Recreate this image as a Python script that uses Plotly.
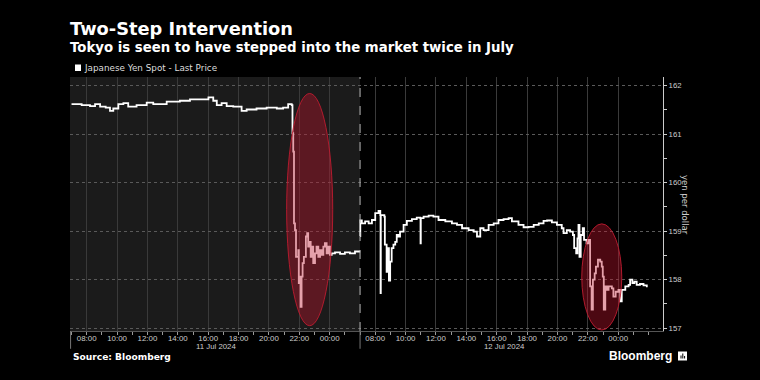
import pandas as pd
import plotly.graph_objects as go

# ---------------- data (Tokyo time) ----------------
day1_times = [
    "2024-07-11 07:00", "2024-07-11 07:40", "2024-07-11 08:13", "2024-07-11 08:33", "2024-07-11 08:53",
    "2024-07-11 09:15", "2024-07-11 09:32", "2024-07-11 09:45", "2024-07-11 10:05", "2024-07-11 10:25",
    "2024-07-11 10:44", "2024-07-11 11:17", "2024-07-11 11:57", "2024-07-11 12:23", "2024-07-11 13:16",
    "2024-07-11 14:08", "2024-07-11 14:48", "2024-07-11 15:28", "2024-07-11 16:01", "2024-07-11 16:20",
    "2024-07-11 16:34", "2024-07-11 16:53", "2024-07-11 17:13", "2024-07-11 17:39", "2024-07-11 18:12",
    "2024-07-11 18:32", "2024-07-11 19:11", "2024-07-11 19:51", "2024-07-11 20:31", "2024-07-11 20:56",
    "2024-07-11 21:16", "2024-07-11 21:30", "2024-07-11 21:33", "2024-07-11 21:36", "2024-07-11 21:39",
    "2024-07-11 21:43", "2024-07-11 21:47", "2024-07-11 21:56", "2024-07-11 21:58", "2024-07-11 22:00",
    "2024-07-11 22:05", "2024-07-11 22:09", "2024-07-11 22:13", "2024-07-11 22:18", "2024-07-11 22:26",
    "2024-07-11 22:31", "2024-07-11 22:35", "2024-07-11 22:39", "2024-07-11 22:45", "2024-07-11 22:50",
    "2024-07-11 22:55", "2024-07-11 23:02", "2024-07-11 23:08", "2024-07-11 23:15", "2024-07-11 23:22",
    "2024-07-11 23:28", "2024-07-11 23:35", "2024-07-11 23:41", "2024-07-11 23:48", "2024-07-11 23:55",
    "2024-07-12 00:01", "2024-07-12 00:08", "2024-07-12 00:21", "2024-07-12 00:41", "2024-07-12 01:00",
    "2024-07-12 01:20", "2024-07-12 01:40", "2024-07-12 01:57",
]
day1_prices = [
    161.62, 161.60, 161.58, 161.62, 161.57,
    161.55, 161.48, 161.53, 161.62, 161.64,
    161.57, 161.60, 161.65, 161.62, 161.67,
    161.69, 161.72, 161.72, 161.76, 161.69,
    161.60, 161.64, 161.58, 161.57, 161.48,
    161.51, 161.53, 161.55, 161.53, 161.55,
    161.62, 161.60, 161.02, 160.64, 159.16,
    159.02, 158.47, 158.61, 157.93, 158.06,
    157.44, 158.06, 158.34, 158.47, 158.89,
    158.96, 158.68, 158.78, 158.47, 158.68,
    158.34, 158.54, 158.68, 158.47, 158.61,
    158.51, 158.68, 158.75, 158.54, 158.68,
    158.51, 158.54, 158.56, 158.53, 158.56,
    158.54, 158.58, 158.60,
]

day2_times = [
    "2024-07-12 07:00", "2024-07-12 07:01", "2024-07-12 07:07", "2024-07-12 07:20", "2024-07-12 07:34",
    "2024-07-12 07:47", "2024-07-12 08:00", "2024-07-12 08:13", "2024-07-12 08:20", "2024-07-12 08:21",
    "2024-07-12 08:22", "2024-07-12 08:36", "2024-07-12 08:38", "2024-07-12 08:45", "2024-07-12 08:50",
    "2024-07-12 08:54", "2024-07-12 08:59", "2024-07-12 09:05", "2024-07-12 09:12", "2024-07-12 09:19",
    "2024-07-12 09:25", "2024-07-12 09:32", "2024-07-12 09:38", "2024-07-12 09:52", "2024-07-12 10:05",
    "2024-07-12 10:25", "2024-07-12 10:44", "2024-07-12 10:58", "2024-07-12 10:59", "2024-07-12 11:00",
    "2024-07-12 11:11", "2024-07-12 11:31", "2024-07-12 11:50", "2024-07-12 12:10", "2024-07-12 12:37",
    "2024-07-12 13:03", "2024-07-12 13:23", "2024-07-12 13:43", "2024-07-12 14:09", "2024-07-12 14:29",
    "2024-07-12 14:42", "2024-07-12 14:55", "2024-07-12 15:08", "2024-07-12 15:28", "2024-07-12 15:48",
    "2024-07-12 16:07", "2024-07-12 16:27", "2024-07-12 16:47", "2024-07-12 17:00", "2024-07-12 17:26",
    "2024-07-12 17:46", "2024-07-12 18:06", "2024-07-12 18:26", "2024-07-12 18:46", "2024-07-12 19:05",
    "2024-07-12 19:19", "2024-07-12 19:38", "2024-07-12 19:58", "2024-07-12 20:17", "2024-07-12 20:24",
    "2024-07-12 20:37", "2024-07-12 20:50", "2024-07-12 21:01", "2024-07-12 21:06", "2024-07-12 21:14",
    "2024-07-12 21:19", "2024-07-12 21:23", "2024-07-12 21:27", "2024-07-12 21:32", "2024-07-12 21:40",
    "2024-07-12 21:45", "2024-07-12 21:55", "2024-07-12 22:02", "2024-07-12 22:09", "2024-07-12 22:15",
    "2024-07-12 22:20", "2024-07-12 22:27", "2024-07-12 22:32", "2024-07-12 22:40", "2024-07-12 22:49",
    "2024-07-12 22:55", "2024-07-12 22:59", "2024-07-12 23:03", "2024-07-12 23:09", "2024-07-12 23:15",
    "2024-07-12 23:22", "2024-07-12 23:35", "2024-07-12 23:41", "2024-07-12 23:50", "2024-07-13 00:01",
    "2024-07-13 00:08", "2024-07-13 00:14", "2024-07-13 00:28", "2024-07-13 00:41", "2024-07-13 00:47",
    "2024-07-13 00:56", "2024-07-13 01:04", "2024-07-13 01:13", "2024-07-13 01:26", "2024-07-13 01:40",
    "2024-07-13 01:53",
]
day2_prices = [
    158.90, 159.22, 159.16, 159.20, 159.16,
    159.23, 159.37, 159.42, 159.33, 157.72,
    159.33, 159.30, 158.72, 158.16, 158.65,
    157.98, 158.37, 158.65, 158.72, 158.78,
    158.92, 158.89, 158.99, 159.13, 159.21,
    159.25, 159.28, 159.27, 158.75, 159.27,
    159.30, 159.32, 159.30, 159.23, 159.20,
    159.16, 159.13, 159.06, 159.02, 158.99,
    158.89, 159.06, 159.02, 159.13, 159.16,
    159.23, 159.25, 159.27, 159.20, 159.13,
    159.08, 159.09, 159.13, 159.16, 159.21,
    159.22, 159.18, 159.13, 159.06, 158.96,
    159.02, 158.99, 158.92, 158.65, 158.54,
    158.85, 159.13, 158.47, 158.92, 159.06,
    158.82, 158.75, 158.82, 157.86, 157.38,
    158.00, 158.13, 158.27, 158.41, 158.37,
    158.27, 158.06, 157.38, 157.86, 157.79,
    157.86, 157.82, 157.65, 157.75, 157.79,
    157.55, 157.79, 157.86, 157.89, 158.00,
    157.93, 157.96, 157.89, 157.91, 157.88,
    157.84,
]

session_starts = ["2024-07-11 07:00", "2024-07-12 07:00"]
session_dates = ["11 Jul 2024", "12 Jul 2024"]
session_hours = 19           # each plotted trading window: 07:00 -> 02:00
tick_hours = [8, 10, 12, 14, 16, 18, 20, 22, 24]
tick_labels = ["08:00", "10:00", "12:00", "14:00", "16:00", "18:00", "20:00", "22:00", "00:00"]

# intervention windows (highlighted with ellipses)
highlight_times = [("2024-07-11 21:10", "2024-07-12 00:12"), ("2024-07-12 21:36", "2024-07-13 00:14")]
highlight_sessions = [0, 1]
highlight_prices = [(157.05, 161.84), (156.96, 159.15)]

series_name = "Japanese Yen Spot - Last Price"


def session_pos(times, idx):
    t = pd.to_datetime(pd.Series(times))
    return (idx * session_hours + (t - pd.Timestamp(session_starts[idx])).dt.total_seconds() / 3600).tolist()


# ---------------- layout helpers ----------------
W, H = 760, 380
PL, PR, PT, PB = 70, 663, 77, 331


def pxx(x):
    return (x - PL) / (PR - PL)


def pyy(y):
    return (PB - y) / (PB - PT)


fig = go.Figure()
for idx, (tms, prs) in enumerate([(day1_times, day1_prices), (day2_times, day2_prices)]):
    fig.add_trace(go.Scatter(
        x=session_pos(tms, idx), y=prs, mode="lines", name=series_name,
        line=dict(color="#ffffff", width=1.8, shape="hv"),
        showlegend=False, hoverinfo="skip",
    ))

tickvals, ticktext = [], []
for i in range(len(session_starts)):
    for hr, lab in zip(tick_hours, tick_labels):
        tickvals.append(i * session_hours + hr - 7)
        ticktext.append(lab)

x_min, x_max = -0.1, 38.95

shapes = [
    # darker-grey panel for first session
    dict(type="rect", xref="x", yref="paper", x0=x_min, x1=session_hours, y0=0, y1=1,
         fillcolor="#1b1b1b", line=dict(width=0), layer="below"),
    # session separator
    dict(type="line", xref="x", yref="paper", x0=session_hours, x1=session_hours, y0=0, y1=1,
         line=dict(color="#bbbbbb", width=1, dash="dash"), layer="above"),
    dict(type="line", xref="x", yref="paper", x0=session_hours, x1=session_hours, y0=-0.07, y1=0,
         line=dict(color="#777777", width=1)),
    dict(type="line", xref="paper", yref="paper", x0=0.001, x1=0.001, y0=-0.07, y1=0,
         line=dict(color="#777777", width=1)),
    # legend swatch
    dict(type="rect", xref="paper", yref="paper", x0=pxx(75), x1=pxx(81), y0=pyy(71), y1=pyy(64.5),
         fillcolor="#ffffff", line=dict(width=0)),
    # bloomberg icon
    dict(type="rect", xref="paper", yref="paper", x0=pxx(678), x1=pxx(687), y0=pyy(360.5), y1=pyy(351.5),
         fillcolor="#ffffff", line=dict(width=0)),
    dict(type="line", xref="paper", yref="paper", x0=pxx(681), x1=pxx(681), y0=pyy(358.5), y1=pyy(355.5),
         line=dict(color="#000000", width=1)),
    dict(type="line", xref="paper", yref="paper", x0=pxx(682.8), x1=pxx(682.8), y0=pyy(358.5), y1=pyy(353.5),
         line=dict(color="#000000", width=1)),
    dict(type="line", xref="paper", yref="paper", x0=pxx(684.6), x1=pxx(684.6), y0=pyy(358.5), y1=pyy(356),
         line=dict(color="#000000", width=1)),
]
for (t0, t1), idx, (p0, p1) in zip(highlight_times, highlight_sessions, highlight_prices):
    xs = session_pos([t0, t1], idx)
    shapes.append(dict(type="circle", xref="x", yref="y", x0=xs[0], x1=xs[1], y0=p0, y1=p1,
                       fillcolor="rgba(190,20,45,0.40)", line=dict(color="rgba(190,28,48,0.9)", width=1),
                       layer="above"))

annotations = [
    dict(text="<b>Two-Step Intervention</b>", x=pxx(68), y=pyy(28.5), xref="paper", yref="paper",
         xanchor="left", yanchor="middle", showarrow=False,
         font=dict(family="DejaVu Sans", size=17.8, color="#ffffff")),
    dict(text="<b>Tokyo is seen to have stepped into the market twice in July</b>", x=pxx(68), y=pyy(47),
         xref="paper", yref="paper", xanchor="left", yanchor="middle", showarrow=False,
         font=dict(family="DejaVu Sans", size=13.3, color="#ffffff")),
    dict(text=series_name, x=pxx(81.5), y=pyy(68), xref="paper", yref="paper",
         xanchor="left", yanchor="middle", showarrow=False,
         font=dict(family="DejaVu Sans", size=8.8, color="#dddddd")),
    dict(text="yen per dollar", x=pxx(685), y=pyy(205), xref="paper", yref="paper",
         xanchor="center", yanchor="middle", textangle=90, showarrow=False,
         font=dict(family="DejaVu Sans", size=8.5, color="#cccccc")),
    dict(text="<b>Source: Bloomberg</b>", x=pxx(71), y=pyy(357), xref="paper", yref="paper",
         xanchor="left", yanchor="middle", showarrow=False,
         font=dict(family="DejaVu Sans", size=9.1, color="#ffffff")),
    dict(text="<b>Bloomberg</b>", x=pxx(674), y=pyy(356), xref="paper", yref="paper",
         xanchor="right", yanchor="middle", showarrow=False,
         font=dict(family="Liberation Sans", size=12, color="#ffffff")),
]
for i, d in enumerate(session_dates):
    annotations.append(dict(text=d, x=i * session_hours + session_hours / 2, y=pyy(346), xref="x",
                            yref="paper", xanchor="center", yanchor="middle", showarrow=False,
                            font=dict(family="Liberation Sans", size=7.8, color="#cccccc")))

fig.update_layout(
    width=W, height=H,
    margin=dict(l=PL, r=W - PR, t=PT, b=H - PB),
    paper_bgcolor="#000000", plot_bgcolor="#000000",
    showlegend=False,
    shapes=shapes, annotations=annotations,
    xaxis=dict(
        range=[x_min, x_max], tickmode="array", tickvals=tickvals, ticktext=ticktext,
        showgrid=True, gridcolor="#3a3a3a", gridwidth=1, zeroline=False,
        showline=True, linecolor="#555555", linewidth=1,
        ticks="", ticklabelstandoff=0,
        tickfont=dict(family="Liberation Sans", size=7.9, color="#cccccc"),
        minor=dict(tickmode="linear", tick0=0, dtick=1, ticks="outside", ticklen=3,
                   tickcolor="#999999", showgrid=False),
        fixedrange=True,
    ),
    yaxis=dict(
        side="right", range=[156.94, 162.18], tickmode="linear", tick0=157, dtick=1,
        showgrid=True, gridcolor="#5a5a5a", griddash="dot", gridwidth=1, zeroline=False,
        showline=True, linecolor="#cccccc", linewidth=1,
        ticks="outside", ticklen=3, tickcolor="#cccccc",
        tickfont=dict(family="Liberation Sans", size=7.8, color="#cccccc"),
        minor=dict(tickmode="linear", tick0=157, dtick=0.5, ticks="outside", ticklen=3,
                   tickcolor="#cccccc", showgrid=False),
        fixedrange=True,
    ),
)

fig.write_html("out.html", config={"displayModeBar": False, "staticPlot": True},
               post_script="document.body.style.margin='0px';document.body.style.overflow='hidden';")
